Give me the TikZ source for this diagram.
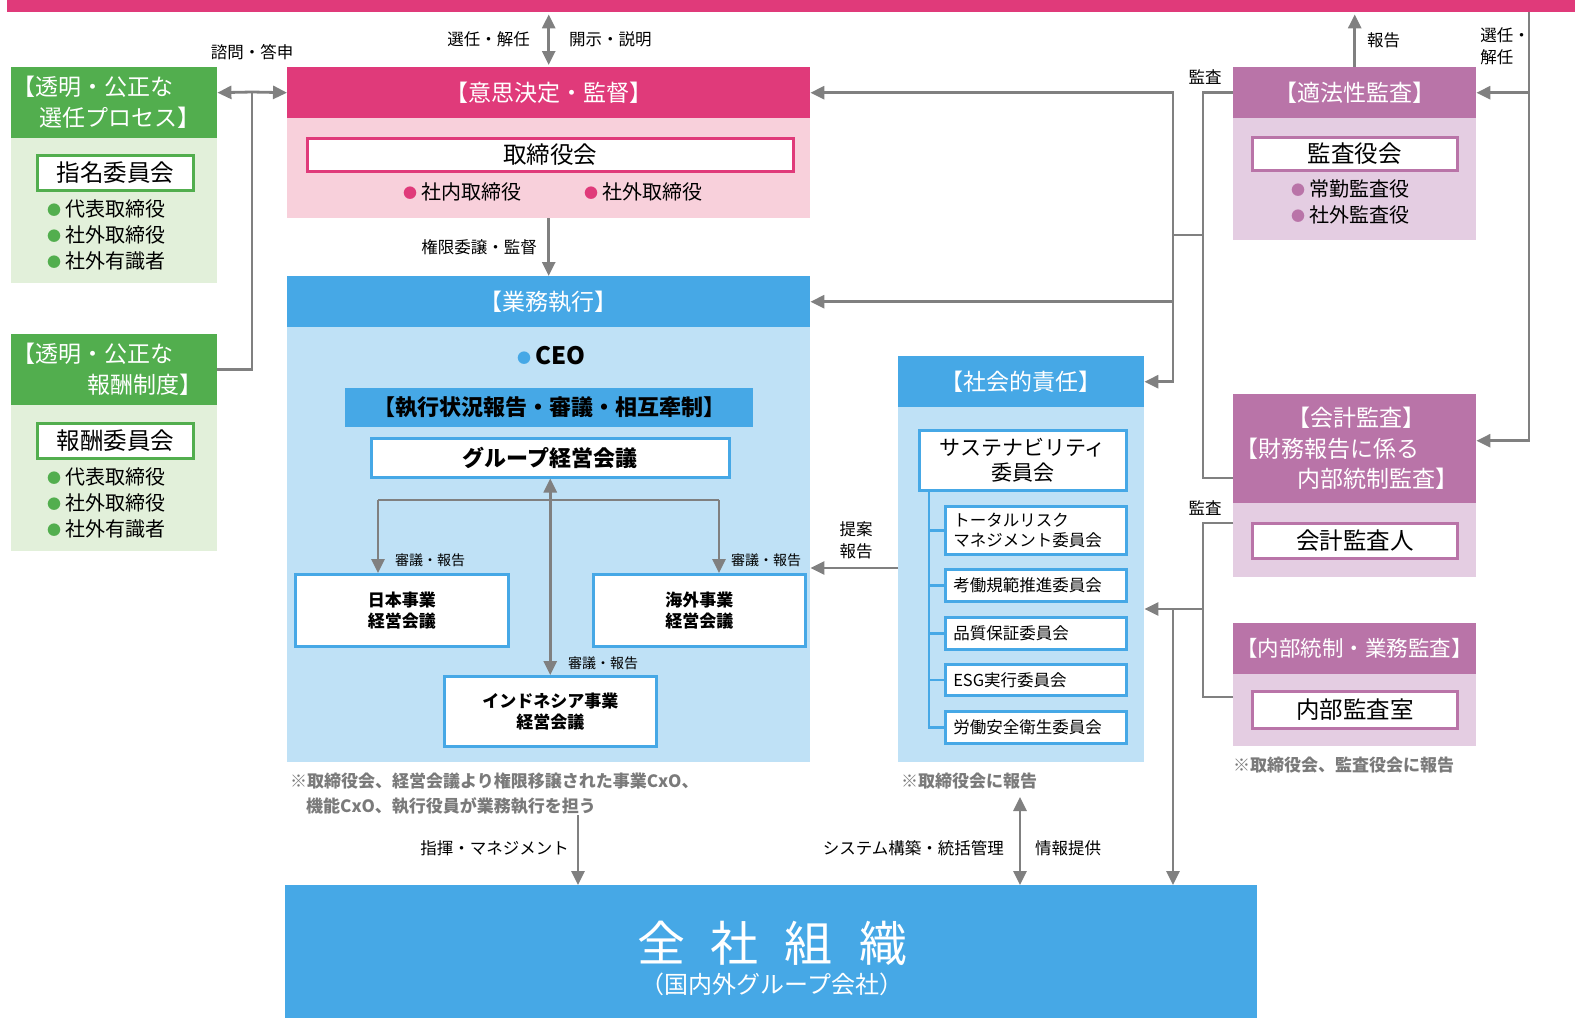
\documentclass[tikz,border=0pt]{standalone}
\usepackage{fontspec}
\setmainfont{Noto Sans CJK JP}
\usetikzlibrary{arrows.meta}

\definecolor{pinkD}{HTML}{E03A7A}
\definecolor{pinkL}{HTML}{F8D0DB}
\definecolor{greenD}{HTML}{52AE4E}
\definecolor{greenL}{HTML}{E2F0DA}
\definecolor{blueD}{HTML}{46A8E6}
\definecolor{blueL}{HTML}{BFE1F6}
\definecolor{mauveD}{HTML}{B974A8}
\definecolor{mauveL}{HTML}{E4CDE2}
\definecolor{lineGray}{HTML}{808080}
\definecolor{noteGray}{HTML}{7A7A7A}

\newcommand{\fsz}[2]{\fontsize{#1pt}{#2pt}\selectfont}
\newcommand{\bul}[1]{\raisebox{1.5pt}{\fsz{14}{14}\textcolor{#1}{●}}\hspace{4pt}}

\begin{document}
\begin{tikzpicture}[x=1pt, y=-1pt, >={Triangle[length=14pt,width=13pt]},
    hdr/.style={fill=#1, text=white, anchor=north west, inner sep=0pt, align=center, font=\fsz{23}{31}},
    body/.style={fill=#1, anchor=north west, inner sep=0pt},
    wbox/.style={draw=#1, line width=2.5pt, fill=white, anchor=north west, inner sep=0pt, align=center, font=\fsz{23.5}{26}},
    cbox/.style={wbox=blueD, inner xsep=8pt, text width=165pt, align=left, font=\fsz{16.5}{20}},
    item/.style={anchor=west, inner sep=0pt, font=\fsz{20}{22}},
    lbl/.style={inner sep=0pt, align=left, font=\fsz{16.5}{22}},
    sublbl/.style={inner sep=0pt, font=\fsz{14}{18}},
    note/.style={anchor=north west, inner sep=0pt, align=left, text=noteGray, font=\bfseries\fsz{17}{25}},
    conn/.style={draw=lineGray, line width=2.8pt},
    tree/.style={draw=blueD, line width=2.5pt}]

  \useasboundingbox (0,0) rectangle (1575,1018);

  % Top bar
  \node[body=pinkD, minimum width=1568, minimum height=12] (topbar) at (7,0) {};

  % Nomination and remuneration
  \node[hdr=greenD, minimum width=206, minimum height=71, text width=204pt, inner xsep=1pt, align=left] (selH) at (11,67) {【透明・公正な\\\hspace*{27pt}選任プロセス】};
  \node[body=greenL, minimum width=206, minimum height=145] (selB) at (11,138) {};
  \node[wbox=greenD, minimum width=156, minimum height=35] (nom) at (36,154) {指名委員会};
  \foreach \t [count=\i] in {代表取締役,社外取締役,社外有識者}
    \node[item] (nom\i) at (47,183+26*\i) {\bul{greenD}\t};

  \node[hdr=greenD, minimum width=206, minimum height=71, text width=204pt, inner xsep=1pt, align=left] (remH) at (11,334) {【透明・公正な\\\hspace*{75pt}報酬制度】};
  \node[body=greenL, minimum width=206, minimum height=146] (remB) at (11,405) {};
  \node[wbox=greenD, minimum width=156, minimum height=35] (rem) at (36,422) {報酬委員会};
  \foreach \t [count=\i] in {代表取締役,社外取締役,社外有識者}
    \node[item] (rem\i) at (47,451+26*\i) {\bul{greenD}\t};

  % Decision making and supervision
  \node[hdr=pinkD, minimum width=523, minimum height=51] (decH) at (287,67) {【意思決定・監督】};
  \node[body=pinkL, minimum width=523, minimum height=100] (decB) at (287,118) {};
  \node[wbox=pinkD, minimum width=486, minimum height=33] (board) at (306,137) {取締役会};
  \node[item] (inDir) at (403,192) {\bul{pinkD}社内取締役};
  \node[item] (outDir) at (584,192) {\bul{pinkD}社外取締役};

  % Business execution
  \node[hdr=blueD, minimum width=523, minimum height=51] (exeH) at (287,276) {【業務執行】};
  \node[body=blueL, minimum width=523, minimum height=435] (exeB) at (287,327) {};
  \node[inner sep=0pt, font=\bfseries\fsz{24}{26}] (ceo) at (551,356) {\bul{blueD}CEO};
  \node[body=blueD, minimum width=408, minimum height=39, font=\bfseries\fsz{22}{26}] (check) at (345,388) {【執行状況報告・審議・相互牽制】};
  \node[wbox=blueD, minimum width=358, minimum height=39, font=\bfseries\fsz{22}{26}] (grp) at (370,437) {グループ経営会議};
  \node[wbox=blueD, minimum width=213, minimum height=72, font=\bfseries\fsz{17}{21}] (jp) at (294,573) {日本事業\\経営会議};
  \node[wbox=blueD, minimum width=212, minimum height=72, font=\bfseries\fsz{17}{21}] (ovs) at (592,573) {海外事業\\経営会議};
  \node[wbox=blueD, minimum width=212, minimum height=70, font=\bfseries\fsz{17}{21}] (idn) at (443,675) {インドネシア事業\\経営会議};
  \node[note] (exeNote) at (290,773) {※取締役会、経営会議より権限移譲された事業CxO、\\\hspace*{16pt}機能CxO、執行役員が業務執行を担う};

  % Social responsibility
  \node[hdr=blueD, minimum width=246, minimum height=51] (socH) at (898,356) {【社会的責任】};
  \node[body=blueL, minimum width=246, minimum height=355] (socB) at (898,407) {};
  \node[wbox=blueD, minimum width=207, minimum height=60, font=\fsz{21}{25}] (sus) at (918,429) {サステナビリティ\\委員会};
  \node[cbox, minimum height=48] (trm) at (944,505) {トータルリスク\\マネジメント委員会};
  \node[cbox, minimum height=32] (cod) at (944,568) {考働規範推進委員会};
  \node[cbox, minimum height=32] (qa) at (944,616) {品質保証委員会};
  \node[cbox, minimum height=31] (esg) at (944,663) {ESG実行委員会};
  \node[cbox, minimum height=32] (ohs) at (944,710) {労働安全衛生委員会};
  \node[note] (socNote) at (901,773) {※取締役会に報告};

  % Audit
  \node[hdr=mauveD, minimum width=243, minimum height=51] (legH) at (1233,67) {【適法性監査】};
  \node[body=mauveL, minimum width=243, minimum height=122] (legB) at (1233,118) {};
  \node[wbox=mauveD, minimum width=205, minimum height=33] (kab) at (1251,136) {監査役会};
  \node[item] (kab1) at (1291,189) {\bul{mauveD}常勤監査役};
  \node[item] (kab2) at (1291,215) {\bul{mauveD}社外監査役};

  \node[hdr=mauveD, minimum width=243, minimum height=109, text width=239pt, inner xsep=2pt, align=left, font=\fsz{23}{30.5}] (accH) at (1233,394) {\hspace*{52pt}【会計監査】\\【財務報告に係る\\\hspace*{62pt}内部統制監査】};
  \node[body=mauveL, minimum width=243, minimum height=74] (accB) at (1233,503) {};
  \node[wbox=mauveD, minimum width=205, minimum height=35] (cpa) at (1251,522) {会計監査人};

  \node[hdr=mauveD, minimum width=243, minimum height=51, font=\fsz{21.5}{26}] (intH) at (1233,623) {【内部統制・業務監査】};
  \node[body=mauveL, minimum width=243, minimum height=72] (intB) at (1233,674) {};
  \node[wbox=mauveD, minimum width=205, minimum height=37] (iad) at (1251,690) {内部監査室};
  \node[note] (audNote) at (1233,757) {※取締役会、監査役会に報告};

  % Whole organisation
  \node[fill=blueD, anchor=north west, minimum width=972, minimum height=133, inner sep=0pt] (org) at (285,885) {};
  \node[text=white, align=center, inner sep=0pt, font=\fsz{24}{28}] (orgTxt) at (772,958) {{\fsz{48}{28}全\hspace{26pt}社\hspace{26pt}組\hspace{26pt}織}\\[4pt]（国内外グループ会社）};

  % Junctions
  \coordinate (jSel) at (252,92);
  \coordinate (hL) at (378,500);
  \coordinate (hR) at (719,500);
  \coordinate (tx) at (929,0);
  \coordinate (jA) at (1173,235);
  \coordinate (jB) at (1203,235);
  \coordinate (jC) at (1203,609);
  \coordinate (jD) at (1173,609);
  \coordinate (accIn) at (1233,478);
  \coordinate (accOut) at (1233,523);
  \coordinate (intOut) at (1233,697);
  \coordinate (rs) at (1529,12);
  \coordinate (cmd) at (578,815);
  \coordinate (sys) at (1020,797);

  % Connectors, left and centre
  \draw[conn, <->] ([yshift=-2pt]topbar.south -| decH.north) -- ([yshift=2pt]decH.north);
  \draw[conn, ->] (jSel) -- (decH.west -| selH.east);
  \draw[conn, ->] (jSel) -- (decH.west);
  \draw[conn] (jSel) |- (remH.east);
  \draw[conn, ->] (decB.south) -- (exeH.north);
  \draw[conn] (hL) -- (hR);
  \draw[conn, ->] (hL) -- (hL |- jp.north);
  \draw[conn, ->] (hR) -- (hR |- ovs.north);
  \draw[conn, <->] (grp.south) -- (idn.north);
  \draw[conn, ->] (socB.west |- cod.north) -- (exeB.east |- cod.north);
  \draw[conn, ->] (cmd) -- (cmd |- org.north);
  \draw[conn, <->] (sys) -- (sys |- org.north);

  % Committee tree
  \draw[tree] (sus.south -| tx) |- (ohs.west);
  \foreach \c in {trm,cod,qa,esg}
    \draw[tree] (\c.west -| tx) -- (\c.west);

  % Connectors, audit side
  \draw[conn] (legH.west) -| (jB) |- (accIn);
  \draw[conn] (jB) -- (jA);
  \draw[conn, ->] (jA) |- (decH.east);
  \draw[conn, ->] (jA) |- (exeH.east);
  \draw[conn, ->] (jA) |- (socH.east);
  \draw[conn] (accOut) -| (jC) |- (intOut);
  \draw[conn, ->] (jC) -- (socB.east |- jC);
  \draw[conn, ->] (jD) -- (jD |- org.north);
  \draw[conn, ->] (legH.north) -- ([yshift=-2pt]legH.north |- topbar.south);
  \draw[conn, ->] (rs) |- ([yshift=8pt]accH.east);
  \draw[conn, ->] (rs |- legH.east) -- (legH.east);

  % Labels
  \node[lbl] (lSel) at (252,52) {諮問・答申};
  \node[lbl, anchor=east] (lAppoint) at (530,39) {選任・解任};
  \node[lbl, anchor=west] (lDisc) at (569,39) {開示・説明};
  \node[lbl, anchor=east] (lDeleg) at (537,247) {権限委譲・監督};
  \node[sublbl] (lJp) at (430,560) {審議・報告};
  \node[sublbl] (lOvs) at (766,560) {審議・報告};
  \node[sublbl] (lIdn) at (603,663) {審議・報告};
  \node[lbl] (lProp) at (856,540) {提案\\報告};
  \node[lbl] (lAud1) at (1205,77) {監査};
  \node[lbl] (lAud2) at (1205,508) {監査};
  \node[lbl, anchor=west] (lRep) at (1367,40) {報告};
  \node[lbl] (lSel2) at (1505,46) {選任・\\解任};
  \node[lbl, anchor=east] (lCmd) at (569,848) {指揮・マネジメント};
  \node[lbl, anchor=east] (lSys) at (1004,848) {システム構築・統括管理};
  \node[lbl, anchor=west] (lInfo) at (1035,848) {情報提供};

\end{tikzpicture}
\end{document}
